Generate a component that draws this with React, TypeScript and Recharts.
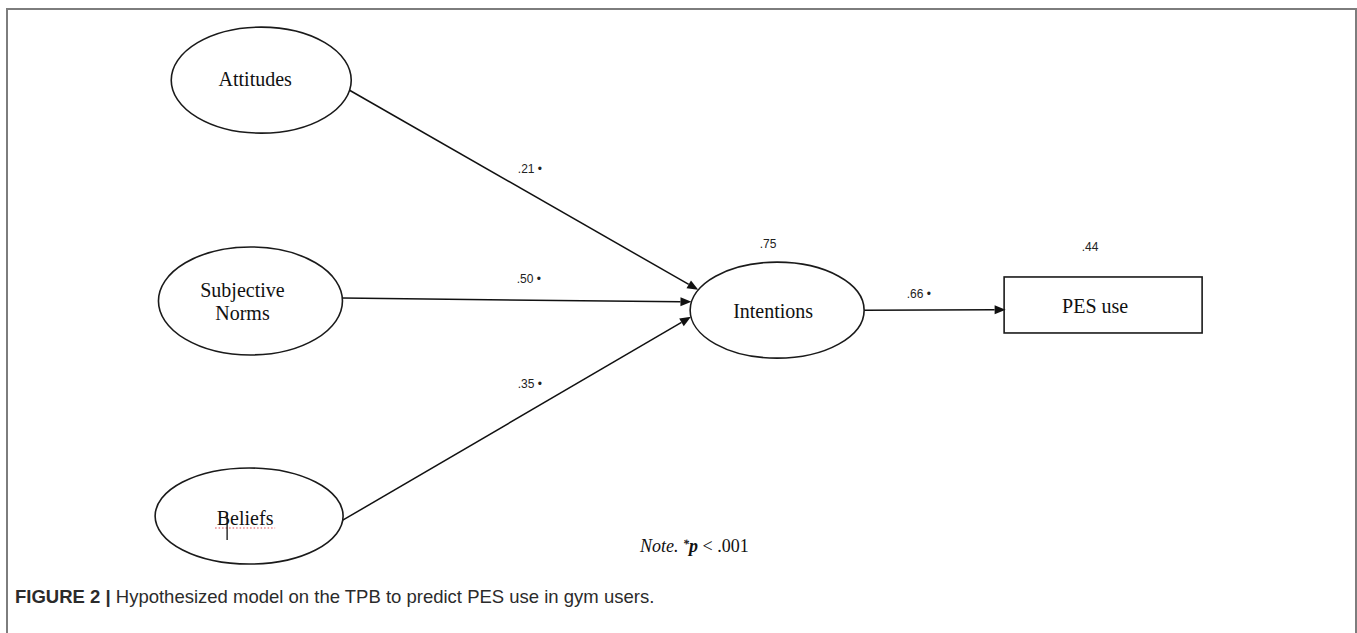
import { ScatterChart, Scatter, XAxis, YAxis, ReferenceLine } from "recharts";

// model variables and where they sit on the diagram (0-100 on both axes)
const nodeNames = ["Attitudes", "Subjective Norms", "Beliefs", "Intentions", "PES use"];
const nodeX = [18.8, 18.0, 17.9, 57.1, 81.3];
const nodeY = [12.2, 50.6, 88.0, 52.2, 51.3];
const rSquared = ["", "", "", ".75", ".44"];

// structural paths and their standardized coefficients
const pathFrom = ["Attitudes", "Subjective Norms", "Beliefs", "Intentions"];
const pathTo = ["Intentions", "Intentions", "Intentions", "PES use"];
const pathCoef = [".21", ".50", ".35", ".66"];

const W = 1347;
const H = 575;
const serif = '"Liberation Serif", "Times New Roman", serif';
const sans = '"Liberation Sans", Arial, sans-serif';

const nodeStyle: Record<string, any> = {
  Attitudes: { kind: "ellipse", rx: 90, ry: 53, lines: ["Attitudes"], dx: -6, dy: 6 },
  "Subjective Norms": { kind: "ellipse", rx: 92, ry: 54, lines: ["Subjective", "Norms"], dx: -8, dy: -4 },
  Beliefs: { kind: "ellipse", rx: 94, ry: 48, lines: ["Beliefs"], dx: -4, dy: 9, typo: true },
  Intentions: { kind: "ellipse", rx: 87, ry: 48, lines: ["Intentions"], dx: -4, dy: 8, r2dx: -9, r2dy: -62 },
  "PES use": { kind: "rect", rx: 99, ry: 28, lines: ["PES use"], dx: -8, dy: 8, r2dx: -13, r2dy: -54 },
};

// where each arrow leaves / enters its ellipse (degrees, y down) and label offset
const pathStyle = [
  { a0: 11, a1: 205, ldx: 6, ldy: -17 },
  { a0: -3, a1: 190, ldx: 12, ldy: -17 },
  { a0: 5, a1: 172, ldx: 13, ldy: -31 },
  { a0: 0, a1: 170, ldx: -16, ldy: -12 },
];

const nodes = nodeNames.map((name, i) => ({ name, x: nodeX[i], y: nodeY[i], r2: rSquared[i] }));

function NodeShape(props: any) {
  const { cx, cy, payload } = props;
  const st = nodeStyle[payload.name];
  return (
    <g>
      {st.kind === "ellipse" ? (
        <ellipse cx={cx} cy={cy} rx={st.rx} ry={st.ry} fill="none" stroke="#1a1a1a" strokeWidth={1.6} />
      ) : (
        <rect x={cx - st.rx} y={cy - st.ry} width={st.rx * 2} height={st.ry * 2} fill="none" stroke="#1a1a1a" strokeWidth={1.6} />
      )}
      {st.lines.map((ln: string, j: number) => (
        <text key={ln} x={cx + st.dx} y={cy + st.dy + j * 23} textAnchor="middle" fontFamily={serif} fontSize={20} fill="#111">
          {ln}
        </text>
      ))}
      {st.typo && (
        <g>
          <line x1={cx - 34} x2={cx + 26} y1={cy + 12} y2={cy + 12} stroke="#e0484f" strokeWidth={1.2} strokeDasharray="1.5 2" />
          <line x1={cx - 22} x2={cx - 22} y1={cy - 1} y2={cy + 24} stroke="#111" strokeWidth={1.3} />
        </g>
      )}
      {payload.r2 && (
        <text x={cx + st.r2dx} y={cy + st.r2dy} textAnchor="middle" fontFamily={sans} fontSize={12} fill="#222">
          {payload.r2}
        </text>
      )}
    </g>
  );
}

function PathArrow(props: any) {
  const { x1, y1, x2, y2, idx } = props;
  const s = nodeStyle[pathFrom[idx]];
  const t = nodeStyle[pathTo[idx]];
  const ps = pathStyle[idx];
  const a0 = (ps.a0 * Math.PI) / 180;
  const a1 = (ps.a1 * Math.PI) / 180;
  const sx = x1 + s.rx * Math.cos(a0);
  const sy = y1 + s.ry * Math.sin(a0);
  const tx = x2 + t.rx * Math.cos(a1);
  const ty = y2 + t.ry * Math.sin(a1);
  const len = Math.hypot(tx - sx, ty - sy);
  const ux = (tx - sx) / len;
  const uy = (ty - sy) / len;
  const head = 11;
  const half = 4.5;
  const bx = tx - ux * head;
  const by = ty - uy * head;
  const mx = (sx + tx) / 2;
  const my = (sy + ty) / 2;
  return (
    <g>
      <line x1={sx} y1={sy} x2={bx} y2={by} stroke="#111" strokeWidth={1.5} />
      <polygon points={`${tx},${ty} ${bx - uy * half},${by + ux * half} ${bx + uy * half},${by - ux * half}`} fill="#111" />
      <text x={mx + ps.ldx} y={my + ps.ldy} textAnchor="middle" fontFamily={sans} fontSize={12} fill="#222">
        {pathCoef[idx]} •
      </text>
    </g>
  );
}

export default function App() {
  return (
    <div
      style={{
        position: "absolute",
        left: 6,
        top: 8,
        width: 1351,
        height: 640,
        boxSizing: "border-box",
        border: "2px solid #7d7d7d",
        borderBottom: "none",
        background: "#fff",
      }}
    >
      <ScatterChart width={W} height={H} margin={{ top: 0, right: 0, bottom: 0, left: 0 }}>
        <XAxis type="number" dataKey="x" domain={[0, 100]} hide />
        <YAxis type="number" dataKey="y" domain={[0, 100]} reversed hide />
        {pathFrom.map((from, i) => {
          const a = nodeNames.indexOf(from);
          const b = nodeNames.indexOf(pathTo[i]);
          return (
            <ReferenceLine
              key={from}
              segment={[
                { x: nodeX[a], y: nodeY[a] },
                { x: nodeX[b], y: nodeY[b] },
              ]}
              ifOverflow="visible"
              shape={(p: any) => <PathArrow {...p} idx={i} />}
            />
          );
        })}
        <Scatter data={nodes} isAnimationActive={false} shape={(p: any) => <NodeShape {...p} />} />
      </ScatterChart>
      <div
        style={{
          position: "absolute",
          left: 632,
          top: 527,
          fontFamily: serif,
          fontSize: 18,
          lineHeight: "18px",
          color: "#111",
          whiteSpace: "nowrap",
        }}
      >
        <i>Note.</i> <b><i><span style={{ fontSize: 12, position: "relative", top: -4 }}>*</span>p</i></b> &lt; .001
      </div>
      <div
        style={{
          position: "absolute",
          left: 7,
          top: 578,
          fontFamily: sans,
          fontSize: 18.5,
          lineHeight: "18px",
          color: "#2b2b2b",
          whiteSpace: "nowrap",
        }}
      >
        <b>FIGURE 2 |</b> Hypothesized model on the TPB to predict PES use in gym users.
      </div>
    </div>
  );
}
